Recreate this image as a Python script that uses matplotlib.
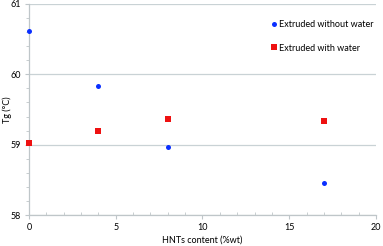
import matplotlib
matplotlib.use('Agg')
import matplotlib.pyplot as plt
from matplotlib.ticker import MultipleLocator

plt.rcParams['font.family'] = ['Lato', 'DejaVu Sans']
plt.rcParams['font.size'] = 6.5

# data
hnt_content = [0, 4, 8, 17]
tg_without_water = [60.62, 59.84, 58.97, 58.45]
tg_with_water = [59.02, 59.20, 59.36, 59.33]

fig = plt.figure(figsize=(3.83, 2.46), dpi=100)
ax = fig.add_axes([0.0757, 0.126, 0.906, 0.858])

ax.plot(hnt_content, tg_without_water, 'o', color='#0a2fff', markersize=3.6,
        markeredgewidth=0, label='Extruded without water', clip_on=False, zorder=3)
ax.plot(hnt_content, tg_with_water, 's', color='#ee1111', markersize=4.2,
        markeredgewidth=0, label='Extruded with water', clip_on=False, zorder=3)

ax.set_xlim(0, 20)
ax.set_ylim(58, 61)
ax.xaxis.set_major_locator(MultipleLocator(5))
ax.xaxis.set_minor_locator(MultipleLocator(1))
ax.yaxis.set_major_locator(MultipleLocator(1))
ax.yaxis.set_minor_locator(MultipleLocator(0.2))

ax.grid(axis='y', which='major', color='#c9d2d5', linewidth=0.9)
ax.set_axisbelow(True)
for s in ['top', 'right']:
    ax.spines[s].set_visible(False)
for s in ['left', 'bottom']:
    ax.spines[s].set_color('#bfc6c9')
    ax.spines[s].set_linewidth(0.9)

ax.tick_params(which='major', length=3, color='#bfc6c9', labelsize=6.5, pad=3)
ax.tick_params(axis='x', which='minor', direction='in', length=2.5, color='#bfc6c9')
ax.tick_params(axis='y', which='minor', direction='out', length=2, color='#bfc6c9')

ax.set_xlabel('HNTs content (%wt)', fontsize=6.5, labelpad=2)
ax.set_ylabel('Tg (°C)', fontsize=6.5, va='center')
ax.yaxis.set_label_coords(-0.063, 0.5)

ax.legend(loc='upper left', bbox_to_anchor=(0.682, 0.94), frameon=False,
          fontsize=6.5, handletextpad=0.1, handlelength=1.0, labelspacing=1.6,
          borderaxespad=0)

fig.savefig('out.png', dpi=100)
